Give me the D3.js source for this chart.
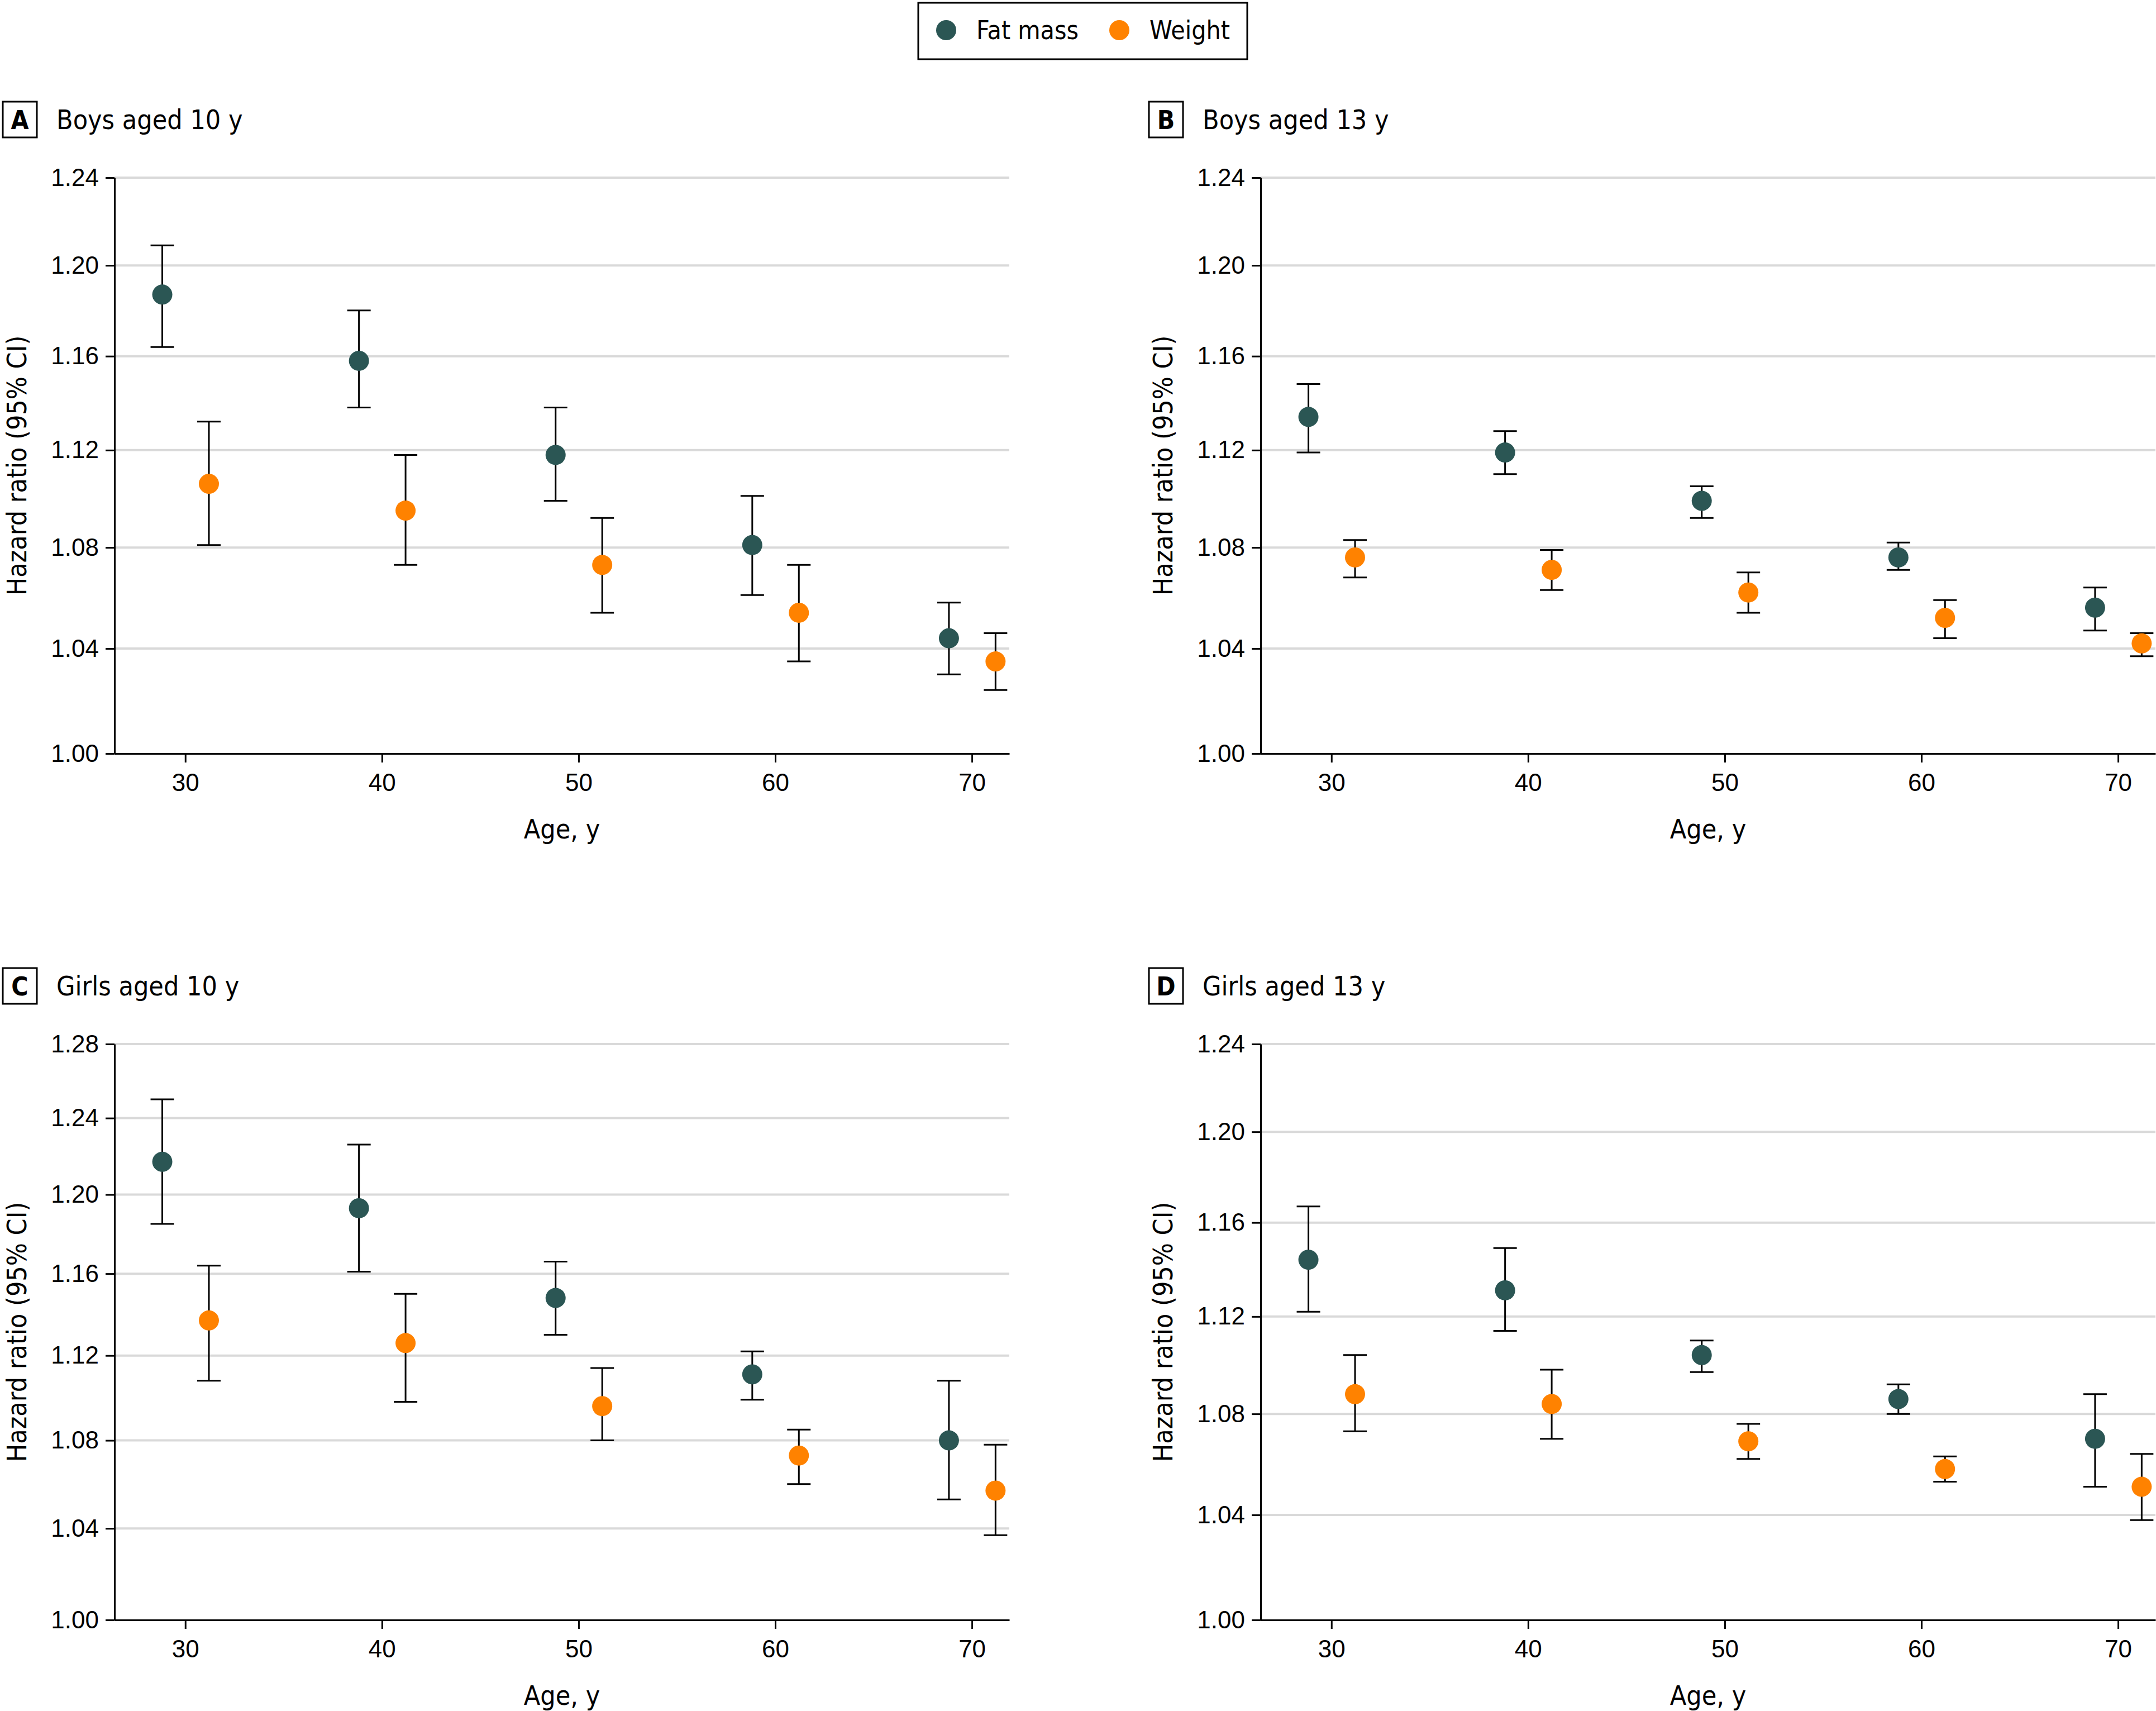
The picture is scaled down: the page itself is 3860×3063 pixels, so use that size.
<!DOCTYPE html>
<html>
<head>
<meta charset="utf-8">
<script src="https://cdn.jsdelivr.net/npm/d3@7"></script>
<style>
    html, body { margin: 0; padding: 0; background: #fff; }
    svg { display: block; font-family: "DejaVu Sans Condensed", "Liberation Sans Narrow", sans-serif; }
    .grid line { stroke: #d9d9d9; stroke-width: 4; }
    .axis path, .axis line { stroke: #000; stroke-width: 3; }
    .axis text { font-size: 44px; fill: #000; }
    .err { stroke: #000; stroke-width: 3; }
</style>
</head>
<body>
<div id="chart"></div>
<script>
// --- data: [HR, lower CI, upper CI] per age ---
const ages = [30, 40, 50, 60, 70];
const xTicks = [30, 40, 50, 60, 70];
const seriesNames = ["Fat mass", "Weight"];
const seriesColors = ["#2b5654", "#ff8200"];

const boys10Fat = [[1.187, 1.164, 1.209], [1.158, 1.138, 1.180], [1.118, 1.099, 1.138], [1.081, 1.061, 1.101], [1.044, 1.030, 1.058]];
const boys10Weight = [[1.106, 1.081, 1.132], [1.095, 1.073, 1.118], [1.073, 1.054, 1.092], [1.054, 1.035, 1.073], [1.035, 1.024, 1.046]];
const boys13Fat = [[1.134, 1.119, 1.148], [1.119, 1.110, 1.128], [1.099, 1.092, 1.105], [1.076, 1.071, 1.082], [1.056, 1.047, 1.064]];
const boys13Weight = [[1.076, 1.068, 1.083], [1.071, 1.063, 1.079], [1.062, 1.054, 1.070], [1.052, 1.044, 1.059], [1.042, 1.037, 1.046]];
const girls10Fat = [[1.217, 1.185, 1.250], [1.193, 1.161, 1.226], [1.148, 1.130, 1.166], [1.111, 1.099, 1.122], [1.080, 1.053, 1.108]];
const girls10Weight = [[1.137, 1.108, 1.164], [1.126, 1.098, 1.150], [1.096, 1.080, 1.114], [1.073, 1.060, 1.085], [1.057, 1.037, 1.078]];
const girls13Fat = [[1.144, 1.122, 1.167], [1.131, 1.114, 1.149], [1.104, 1.097, 1.110], [1.086, 1.080, 1.092], [1.070, 1.051, 1.088]];
const girls13Weight = [[1.088, 1.073, 1.104], [1.084, 1.070, 1.098], [1.069, 1.062, 1.076], [1.058, 1.053, 1.063], [1.051, 1.038, 1.064]];

const ticks124 = [1.00, 1.04, 1.08, 1.12, 1.16, 1.20, 1.24];
const ticks128 = [1.00, 1.04, 1.08, 1.12, 1.16, 1.20, 1.24, 1.28];

const panels = [
    { letter: "A", title: "Boys aged 10 y", series: [boys10Fat, boys10Weight], yTicks: ticks124 },
    { letter: "B", title: "Boys aged 13 y", series: [boys13Fat, boys13Weight], yTicks: ticks124 },
    { letter: "C", title: "Girls aged 10 y", series: [girls10Fat, girls10Weight], yTicks: ticks128 },
    { letter: "D", title: "Girls aged 13 y", series: [girls13Fat, girls13Weight], yTicks: ticks124 }
];

const Chart = (() => {
    const width = 3860;
    const height = 3063;

    // panel layout (in px)
    const panelDx = 2052;
    const panelDy = 1551;
    const plotLeft = 205;
    const plotRight = 1807;
    const plotTop = 318;
    const plotBottom = 1349;
    const dodge = [-1.17, 1.2]; // fat mass left, weight right of the age tick

    function render() {
        const svg = d3.select("#chart").append("svg")
            .attr("width", width)
            .attr("height", height);

        drawLegend(svg);

        panels.forEach((p, i) => {
            const ox = (i % 2) * panelDx;
            const oy = Math.floor(i / 2) * panelDy;
            drawPanel(svg.append("g").attr("transform", `translate(${ox},${oy})`), p);
        });
    }

    function drawLegend(svg) {
        const g = svg.append("g");
        g.append("rect")
            .attr("x", 1644).attr("y", 5)
            .attr("width", 589).attr("height", 101)
            .attr("fill", "#fff").attr("stroke", "#000").attr("stroke-width", 3);

        const itemX = [1694, 2004];
        seriesNames.forEach((name, i) => {
            g.append("circle")
                .attr("cx", itemX[i]).attr("cy", 54).attr("r", 18)
                .attr("fill", seriesColors[i]);
            g.append("text")
                .attr("x", itemX[i] + 54).attr("y", 54)
                .attr("dominant-baseline", "central")
                .style("font-size", "46px")
                .text(name);
        });
    }

    function drawPanel(g, p) {
        const x = d3.scaleLinear().domain([26.4, 71.9]).range([plotLeft, plotRight]);
        const y = d3.scaleLog().domain([p.yTicks[0], p.yTicks[p.yTicks.length - 1]]).range([plotBottom, plotTop]);

        // header: boxed letter + title
        g.append("rect")
            .attr("x", 5).attr("y", 182).attr("width", 61).attr("height", 64)
            .attr("fill", "none").attr("stroke", "#000").attr("stroke-width", 3);
        g.append("text")
            .attr("x", 35.5).attr("y", 215)
            .attr("text-anchor", "middle").attr("dominant-baseline", "central")
            .style("font-size", "46px").style("font-weight", "bold")
            .text(p.letter);
        g.append("text")
            .attr("x", 101).attr("y", 214)
            .attr("dominant-baseline", "central")
            .style("font-size", "48px")
            .text(p.title);

        // gridlines
        g.append("g").attr("class", "grid")
            .selectAll("line").data(p.yTicks.slice(1)).join("line")
            .attr("x1", plotLeft).attr("x2", plotRight)
            .attr("y1", d => y(d)).attr("y2", d => y(d));

        // axes
        g.append("g").attr("class", "axis")
            .attr("transform", `translate(${plotLeft},0)`)
            .call(d3.axisLeft(y).tickValues(p.yTicks).tickFormat(d3.format(".2f"))
                .tickSize(16).tickSizeOuter(0).tickPadding(12));

        g.append("g").attr("class", "axis")
            .attr("transform", `translate(0,${plotBottom})`)
            .call(d3.axisBottom(x).tickValues(xTicks).tickFormat(d3.format("d"))
                .tickSize(16).tickSizeOuter(0).tickPadding(20));

        g.append("text")
            .attr("x", (plotLeft + plotRight) / 2).attr("y", 1484)
            .attr("text-anchor", "middle").attr("dominant-baseline", "central")
            .style("font-size", "48px")
            .text("Age, y");

        g.append("text")
            .attr("transform", `translate(30,${(plotTop + plotBottom) / 2}) rotate(-90)`)
            .attr("text-anchor", "middle").attr("dominant-baseline", "central")
            .style("font-size", "48px")
            .text("Hazard ratio (95% CI)");

        // error bars + points
        p.series.forEach((vals, s) => {
            const pts = vals.map((v, k) => ({ age: ages[k] + dodge[s], hr: v[0], lo: v[1], hi: v[2] }));
            const sg = g.append("g");
            const cap = 21;

            sg.selectAll(".stem").data(pts).join("line").attr("class", "err")
                .attr("x1", d => x(d.age)).attr("x2", d => x(d.age))
                .attr("y1", d => y(d.lo)).attr("y2", d => y(d.hi));
            sg.selectAll(".capHi").data(pts).join("line").attr("class", "err")
                .attr("x1", d => x(d.age) - cap).attr("x2", d => x(d.age) + cap)
                .attr("y1", d => y(d.hi)).attr("y2", d => y(d.hi));
            sg.selectAll(".capLo").data(pts).join("line").attr("class", "err")
                .attr("x1", d => x(d.age) - cap).attr("x2", d => x(d.age) + cap)
                .attr("y1", d => y(d.lo)).attr("y2", d => y(d.lo));
            sg.selectAll("circle").data(pts).join("circle")
                .attr("cx", d => x(d.age)).attr("cy", d => y(d.hr))
                .attr("r", 18)
                .attr("fill", seriesColors[s]);
        });
    }

    return { render };
})();

Chart.render();
</script>
</body>
</html>
